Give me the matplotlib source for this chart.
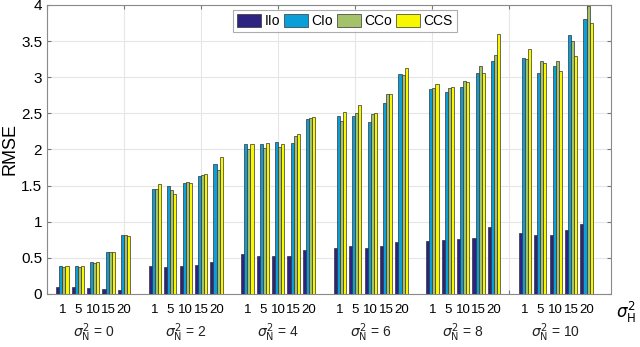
import numpy as np
import matplotlib
matplotlib.use('Agg')
import matplotlib.pyplot as plt

plt.rcParams['font.family'] = ['Liberation Sans', 'DejaVu Sans']

# noise levels (groups) and sigma_H^2 values (sub-groups)
sigma_n = [0, 2, 4, 6, 8, 10]
sigma_h = [1, 5, 10, 15, 20]
methods = ['IIo', 'CIo', 'CCo', 'CCS']
colors = ['#2c2383', '#0a9fd8', '#a3c26a', '#f7f700']

# RMSE, one row per sigma_N^2, one column per sigma_H^2
IIo = [[0.10, 0.10, 0.08, 0.065, 0.05],
       [0.39, 0.37, 0.38, 0.40, 0.44],
       [0.55, 0.52, 0.53, 0.53, 0.61],
       [0.63, 0.66, 0.63, 0.67, 0.72],
       [0.73, 0.75, 0.76, 0.77, 0.92],
       [0.84, 0.82, 0.81, 0.88, 0.97]]
CIo = [[0.38, 0.38, 0.435, 0.575, 0.81],
       [1.45, 1.49, 1.54, 1.63, 1.80],
       [2.08, 2.07, 2.10, 2.09, 2.42],
       [2.47, 2.47, 2.38, 2.64, 3.04],
       [2.84, 2.79, 2.87, 3.06, 3.23],
       [3.26, 3.06, 3.16, 3.58, 3.81]]
CCo = [[0.375, 0.375, 0.43, 0.575, 0.81],
       [1.45, 1.44, 1.55, 1.64, 1.72],
       [2.00, 2.02, 2.03, 2.19, 2.435],
       [2.40, 2.50, 2.49, 2.77, 3.03],
       [2.85, 2.85, 2.95, 3.16, 3.31],
       [3.25, 3.23, 3.22, 3.50, 3.99]]
CCS = [[0.38, 0.38, 0.44, 0.575, 0.805],
       [1.52, 1.39, 1.54, 1.66, 1.90],
       [2.08, 2.09, 2.07, 2.22, 2.445],
       [2.52, 2.62, 2.51, 2.77, 3.13],
       [2.90, 2.865, 2.93, 3.06, 3.60],
       [3.39, 3.20, 3.08, 3.30, 3.745]]
data = [IIo, CIo, CCo, CCS]

fig = plt.figure(figsize=(6.4, 3.47), dpi=100)
ax = fig.add_axes([0.0734, 0.153, 0.8816, 0.8326])

# bar slots: 5 per group plus one empty slot between groups
pos = np.array([[1 + 6 * g + s for s in range(len(sigma_h))] for g in range(len(sigma_n))])
w = 0.2
for k, (name, vals) in enumerate(zip(methods, data)):
    ax.bar(pos.ravel() + (k - 1.5) * w, np.array(vals).ravel(), width=w,
           color=colors[k], edgecolor='#333333', linewidth=0.5, label=name, zorder=3)

ax.set_xlim(0, 36.6)
ax.set_ylim(0, 4)
ax.set_yticks(np.arange(0, 4.01, 0.5))
ax.set_yticklabels(['0', '0.5', '1', '1.5', '2', '2.5', '3', '3.5', '4'], fontsize=11)
ax.set_xticks(np.arange(0, 36, 5))
ax.set_xticklabels([])
ax.grid(True, color='#e6e6e6', linewidth=0.8, zorder=0)
ax.tick_params(direction='in', top=True, right=True, length=3, color='#777777')
for sp in ax.spines.values():
    sp.set_color('#8a8a8a')
ax.set_ylabel('RMSE', fontsize=13, labelpad=2)

# sub-group and group labels under the axis
tr = ax.get_xaxis_transform()
for g, n in enumerate(sigma_n):
    for s, h in enumerate(sigma_h):
        ax.text(pos[g, s], -0.057, str(h), transform=tr, ha='center', va='center', fontsize=9.5)
    ax.text(pos[g, 2], -0.135, r'$\sigma^2_{\mathrm{N}}$ = %d' % n, transform=tr,
            ha='center', va='center', fontsize=10, color='#222222')
ax.text(1.027, -0.065, r'$\sigma^2_{\mathrm{H}}$', transform=ax.transAxes,
        ha='center', va='center', fontsize=12)

leg = ax.legend(loc='upper center', bbox_to_anchor=(0.528, 0.983), ncol=4, fontsize=10,
                frameon=True, fancybox=False, edgecolor='#999999', handlelength=1.7,
                handleheight=1.0, columnspacing=0.3, handletextpad=0.25, borderpad=0.3,
                borderaxespad=0)
leg.get_frame().set_linewidth(0.8)

fig.savefig('out.png', dpi=100)
